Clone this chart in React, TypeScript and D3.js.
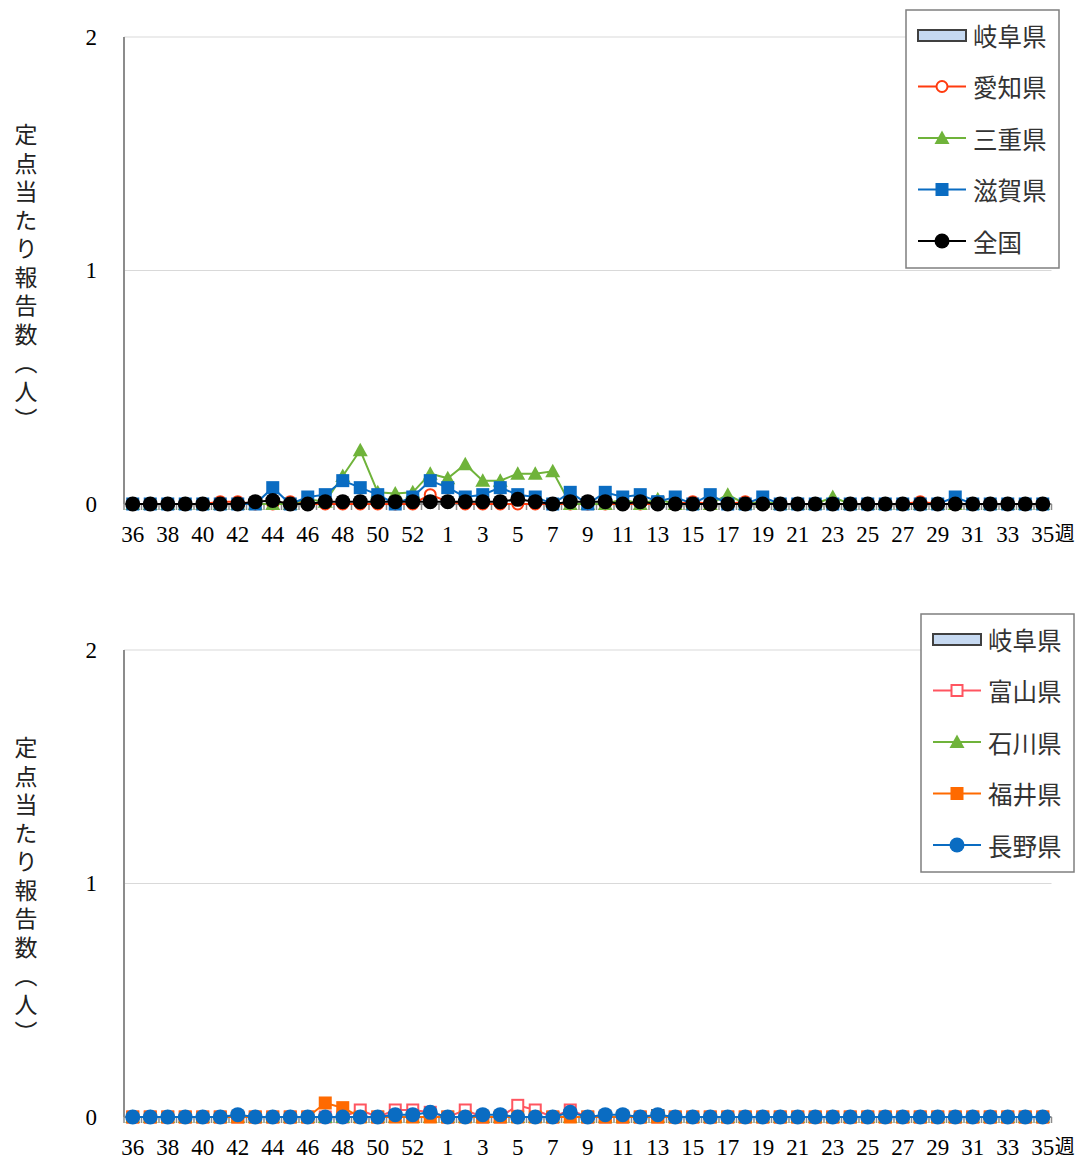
import React from "react";
import * as d3 from "d3";

const weeks: number[] = [36,37,38,39,40,41,42,43,44,45,46,47,48,49,50,51,52,53,1,2,3,4,5,6,7,8,9,10,11,12,13,14,15,16,17,18,19,20,21,22,23,24,25,26,27,28,29,30,31,32,33,34,35];
const yTicks: number[] = [0, 1, 2];

const gifu: number[] = [0,0,0,0,0,0,0,0,0,0,0,0,0,0,0,0,0,0, 0,0,0,0,0,0,0.02,0.03,0,0,0,0,0.03,0,0,0,0,0,0,0,0,0,0,0,0,0,0,0,0,0,0,0,0,0,0];

const aichi: number[] = [0,0,0,0,0,0.01,0.01,0,0,0.01,0,0,0,0,0,0,0,0.04, 0.01,0,0,0,0,0,0,0,0,0,0,0,0,0,0.01,0,0,0.01,0,0,0,0,0,0,0,0,0,0.01,0,0,0,0,0,0,0];
const mie: number[] = [0,0,0,0,0,0,0,0,0,0,0.02,0.01,0.12,0.23,0.05,0.045,0.05,0.13, 0.11,0.17,0.1,0.1,0.13,0.13,0.14,0,0,0,0.02,0,0.02,0,0,0,0.04,0,0.01,0,0,0,0.03,0,0,0,0,0,0,0,0,0,0,0,0];
const shiga: number[] = [0,0,0,0,0,0,0,0,0.07,0,0.03,0.04,0.1,0.07,0.04,0,0.03,0.1, 0.07,0.03,0.04,0.07,0.04,0.03,0,0.05,0,0.05,0.03,0.04,0.01,0.03,0,0.04,0,0,0.03,0,0,0,0,0,0,0,0,0,0,0.03,0,0,0,0,0];
const zenkoku: number[] = [0,0,0,0,0,0,0,0.01,0.015,0,0,0.01,0.01,0.01,0.01,0.01,0.01,0.01, 0.01,0.01,0.01,0.01,0.02,0.01,0,0.01,0.01,0.01,0,0.01,0,0,0,0,0,0,0,0,0,0,0,0,0,0,0,0,0,0,0,0,0,0,0];

const toyama: number[] = [0,0,0,0,0,0,0,0,0,0,0,0,0,0.03,0,0.03,0.03,0.02, 0,0.03,0,0,0.05,0.03,0,0.03,0,0,0,0,0,0,0,0,0,0,0,0,0,0,0,0,0,0,0,0,0,0,0,0,0,0,0];
const ishikawa: number[] = [0,0,0,0,0,0,0,0,0,0,0,0,0,0,0,0,0,0, 0,0,0,0,0,0,0,0,0,0,0,0,0,0,0,0,0,0,0,0,0,0,0,0,0,0,0,0,0,0,0,0,0,0,0];
const fukui: number[] = [0,0,0,0,0,0,0,0,0,0,0,0.06,0.04,0,0,0,0,0, 0,0,0,0,0,0,0,0,0,0,0,0,0,0,0,0,0,0,0,0,0,0,0,0,0,0,0,0,0,0,0,0,0,0,0];
const nagano: number[] = [0,0,0,0,0,0,0.01,0,0,0,0,0,0,0,0,0.01,0.01,0.02, 0,0,0.01,0.01,0,0,0,0.02,0,0.01,0.01,0,0.01,0,0,0,0,0,0,0,0,0,0,0,0,0,0,0,0,0,0,0,0,0,0];

type Marker = "circleOpen" | "triangle" | "square" | "squareOpen" | "circle";
interface Series { name: string; values: number[]; color: string; marker: Marker; }

const topSeries: Series[] = [
  { name: "愛知県", values: aichi, color: "#FF3B0F", marker: "circleOpen" },
  { name: "三重県", values: mie, color: "#6FB33A", marker: "triangle" },
  { name: "滋賀県", values: shiga, color: "#0A6CC2", marker: "square" },
  { name: "全国", values: zenkoku, color: "#000000", marker: "circle" },
];
const bottomSeries: Series[] = [
  { name: "富山県", values: toyama, color: "#FF5560", marker: "squareOpen" },
  { name: "石川県", values: ishikawa, color: "#6FB33A", marker: "triangle" },
  { name: "福井県", values: fukui, color: "#FF6A00", marker: "square" },
  { name: "長野県", values: nagano, color: "#0A6CC2", marker: "circle" },
];

const SERIF = "'Liberation Serif', 'Times New Roman', serif";
const CJK = "'Noto Sans CJK JP', sans-serif";

function MarkerShape({ m, x, y, color }: { m: Marker; x: number; y: number; color: string }) {
  if (m === "circle") return <circle cx={x} cy={y} r={7.5} fill={color} />;
  if (m === "circleOpen") return <circle cx={x} cy={y} r={5.5} fill="#fff" stroke={color} strokeWidth={2} />;
  if (m === "square") return <rect x={x - 6.5} y={y - 6.5} width={13} height={13} fill={color} />;
  if (m === "squareOpen") return <rect x={x - 5.5} y={y - 5.5} width={11} height={11} fill="#fff" stroke={color} strokeWidth={2} />;
  const s = 7.5;
  return <path d={`M${x},${y - s}L${x + s},${y + s * 0.8}L${x - s},${y + s * 0.8}Z`} fill={color} />;
}

function Panel({ top, series, legendX, legendTop }: { top: number; series: Series[]; legendX: number; legendTop: number }) {
  const left = 124;
  const right = 124 + 53 * 17.5;
  const y0 = top + 467;
  const x = d3.scaleBand<number>().domain(d3.range(weeks.length)).range([left, right]).padding(0);
  const y = d3.scaleLinear().domain([0, 2]).range([y0, top]);
  const cx = (i: number) => (x(i) as number) + x.bandwidth() / 2;
  const line = d3.line<number>().x((_, i) => cx(i)).y((v) => y(v));
  const rowH = 51.5;
  const legendItems = [{ name: "岐阜県", bar: true } as any, ...series];
  return (
    <g>
      {yTicks.filter((t) => t > 0).map((t) => (
        <line key={t} x1={left} x2={right} y1={y(t)} y2={y(t)} stroke="#d9d9d9" strokeWidth={1} />
      ))}
      {yTicks.map((t) => (
        <text key={"yl" + t} x={97} y={y(t)} textAnchor="end" dominantBaseline="central" fontFamily={SERIF} fontSize={23} fill="#000">{t}</text>
      ))}
      <text x={26} y={top + 86} style={{ writingMode: "vertical-rl" as any }} fontFamily={CJK} fontSize={23} letterSpacing={5.5} fill="#222">定点当たり報告数（人）</text>
      {gifu.map((v, i) => v > 0 ? (
        <rect key={"g" + i} x={cx(i) - 6} y={y(v)} width={12} height={y0 - y(v)} fill="#C6D9F1" stroke="#404040" strokeWidth={1.5} />
      ) : null)}
      <line x1={left} x2={left} y1={top} y2={y0} stroke="#8c8c8c" strokeWidth={2} />
      <line x1={left} x2={right} y1={y0} y2={y0} stroke="#8c8c8c" strokeWidth={2} />
      {d3.range(weeks.length + 1).map((i) => {
        const xx = left + i * x.bandwidth();
        return <line key={"t" + i} x1={xx} x2={xx} y1={y0} y2={y0 + 6} stroke="#8c8c8c" strokeWidth={1.5} />;
      })}
      {weeks.map((w, i) => i % 2 === 0 ? (
        <text key={"xl" + i} x={cx(i)} y={y0 + 30} textAnchor="middle" dominantBaseline="central" fontFamily={SERIF} fontSize={23} fill="#000">{w}</text>
      ) : null)}
      <text x={cx(weeks.length - 1) + 12} y={y0 + 28} dominantBaseline="central" fontFamily={CJK} fontSize={20} fill="#000">週</text>
      {series.map((s) => (
        <g key={s.name}>
          <path d={line(s.values) || ""} fill="none" stroke={s.color} strokeWidth={2} />
          {s.values.map((v, i) => <MarkerShape key={i} m={s.marker} x={cx(i)} y={y(v)} color={s.color} />)}
        </g>
      ))}
      <rect x={legendX} y={legendTop} width={153} height={258} fill="#fff" stroke="#7f7f7f" strokeWidth={1.5} />
      {legendItems.map((it: any, k: number) => {
        const ly = legendTop + 25 + k * rowH;
        const lx = legendX + 12;
        return (
          <g key={"lg" + k}>
            {it.bar ? (
              <rect x={lx} y={ly - 5} width={48} height={11} fill="#C6D9F1" stroke="#404040" strokeWidth={2} />
            ) : (
              <g>
                <line x1={lx} x2={lx + 48} y1={ly} y2={ly} stroke={it.color} strokeWidth={2} />
                <MarkerShape m={it.marker} x={lx + 24} y={ly} color={it.color} />
              </g>
            )}
            <text x={lx + 55} y={ly} dominantBaseline="central" fontFamily={CJK} fontSize={24.5} fill="#333">{it.name}</text>
          </g>
        );
      })}
    </g>
  );
}

export default function App() {
  return (
    <svg width={1088} height={1158} style={{ position: "absolute", left: 0, top: 0, background: "#fff" }}>
      <rect width={1088} height={1158} fill="#fff" />
      <Panel top={37} series={topSeries} legendX={906} legendTop={10} />
      <Panel top={650} series={bottomSeries} legendX={921} legendTop={614} />
    </svg>
  );
}
